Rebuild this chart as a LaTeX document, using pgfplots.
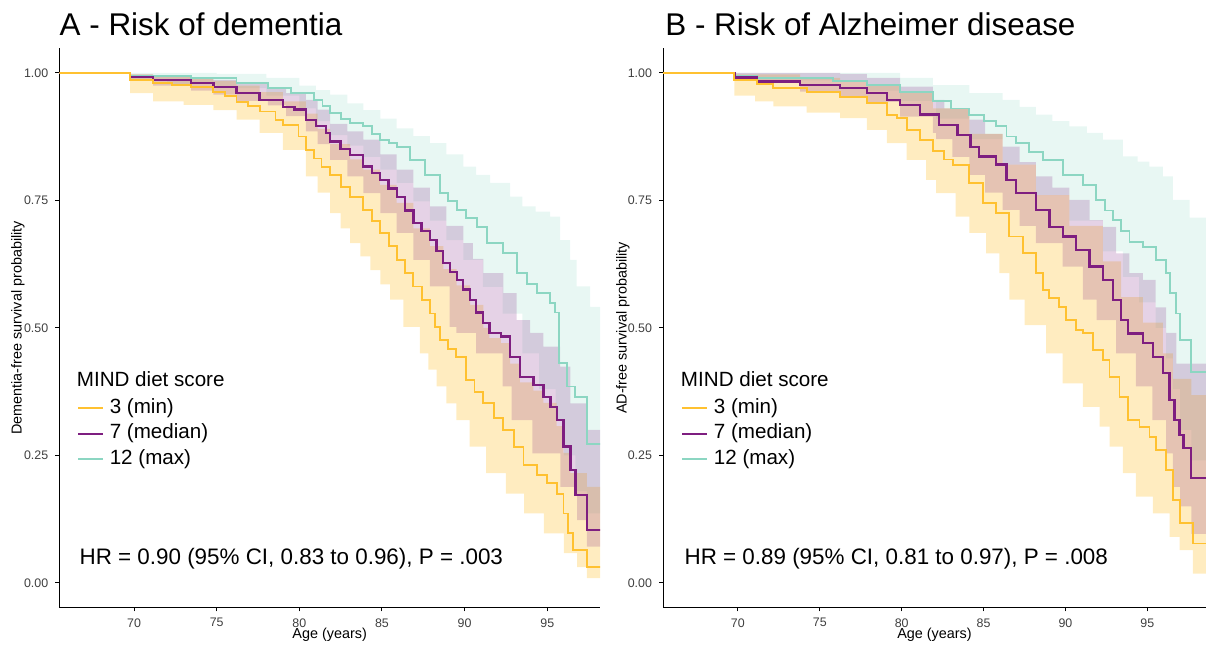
\documentclass[border=0pt]{standalone}
\usepackage{fontspec}
\setmainfont{Liberation Sans}
\usepackage{pgfplots}
\pgfplotsset{compat=1.18}
\usepgfplotslibrary{fillbetween}
\definecolor{cY}{HTML}{FFC130}
\definecolor{cP}{HTML}{7E1E80}
\definecolor{cT}{HTML}{8CD6C2}
\definecolor{gtick}{HTML}{3F3F3F}
\begin{document}
\begin{tikzpicture}
\pgfplotsset{
 panel/.style={scale only axis, ymin=-0.048, ymax=1.048,
  axis x line*=bottom, axis y line*=left,
  xtick={70,75,80,85,90,95}, ytick={0,0.25,0.5,0.75,1},
  yticklabels={0.00,0.25,0.50,0.75,1.00},
  tick align=outside, major tick length=2pt,
  tick style={black,line width=0.5pt},
  axis line style={black,line width=0.5pt},
  ticklabel style={font=\fontsize{6.2}{7}\selectfont, text=gtick},
  /pgf/number format/assume math mode=true,
  xlabel={Age (years)},
  label style={font=\fontsize{7.2}{8.5}\selectfont},
  xlabel style={at={(rel axis cs:0.5,-0.0496)}, anchor=center},
  legend style={draw=none, fill=none, anchor=north west, inner sep=0pt,
    row sep=2.75pt, column sep=3pt, font=\fontsize{10.3}{12}\selectfont,
    nodes={inner sep=0pt, text height=7.4pt, text depth=2.6pt}},
  legend cell align=left,
  legend image code/.code={\draw[##1] (0pt,0pt) -- (12.3pt,0pt);},
 },
 band/.style={draw=none, const plot, forget plot},
 km/.style={const plot, forget plot},
}
% ---------------- Panel A ----------------
\begin{axis}[panel, at={(29.65pt,18.35pt)}, anchor=south west,
  width=270.35pt, height=279.5pt, xmin=65.48, xmax=98.19,
  ylabel={Dementia-free survival probability},
  ylabel style={at={(rel axis cs:-0.0764,0.5)}, anchor=center},
  legend style={at={(rel axis cs:0.0318,0.3746)}}]
\addlegendimage{line width=0.95pt, color=cY}\addlegendentry{3 (min)}
\addlegendimage{line width=1.15pt, color=cP}\addlegendentry{7 (median)}
\addlegendimage{line width=0.95pt, color=cT}\addlegendentry{12 (max)}
% teal band
\addplot[band, name path=TUa] coordinates {(69.76,1.0) (75.0,0.998) (78.0,0.99) (80.0,0.975) (81.0,0.966) (81.86,0.957) (82.9,0.94) (83.87,0.927) (84.9,0.91) (85.89,0.891) (86.9,0.876) (87.9,0.862) (88.9,0.84) (89.92,0.816) (90.7,0.80) (91.54,0.784) (92.75,0.757) (93.5,0.738) (94.3,0.728) (95.17,0.718) (95.77,0.672) (96.38,0.633) (96.78,0.581) (97.59,0.541) (98.4,0.541)};
\addplot[band, name path=TLa] coordinates {(69.76,0.985) (72.0,0.978) (75.0,0.970) (78.0,0.955) (80.0,0.930) (81.0,0.905) (81.86,0.878) (82.9,0.857) (83.87,0.835) (84.9,0.81) (85.89,0.784) (86.9,0.748) (87.9,0.71) (88.9,0.672) (89.92,0.633) (91.1,0.58) (92.3,0.528) (93.5,0.45) (94.5,0.38) (95.5,0.32) (96.0,0.25) (96.7,0.18) (97.4,0.136) (98.4,0.136)};
\addplot[fill=cT, fill opacity=0.2, draw=none, forget plot] fill between[of=TUa and TLa];
% yellow band
\addplot[band, name path=YUa] coordinates {(69.76,0.997) (71.15,0.993) (73.46,0.990) (74.8,0.984) (76.2,0.975) (77.6,0.962) (79.0,0.944) (80.4,0.92) (81.1,0.89) (81.86,0.86) (83.07,0.83) (83.87,0.81) (84.88,0.78) (85.89,0.745) (86.9,0.695) (87.9,0.66) (88.71,0.615) (89.52,0.583) (90.33,0.545) (91.13,0.50) (91.5,0.48) (92.2,0.47) (92.75,0.43) (93.35,0.393) (94.16,0.377) (94.77,0.353) (95.57,0.307) (95.98,0.255) (96.4,0.215) (97.4,0.188) (98.4,0.188)};
\addplot[band, name path=YLa] coordinates {(69.76,0.960) (71.15,0.944) (73.0,0.937) (74.8,0.927) (76.2,0.908) (77.6,0.882) (79.0,0.849) (80.4,0.797) (81.1,0.765) (81.86,0.725) (82.5,0.695) (83.07,0.666) (83.7,0.64) (84.3,0.613) (84.9,0.585) (85.5,0.555) (86.3,0.502) (87.3,0.450) (87.8,0.418) (88.3,0.385) (88.9,0.352) (89.5,0.319) (90.3,0.267) (91.3,0.215) (92.5,0.175) (93.6,0.136) (94.8,0.097) (96.0,0.058) (96.8,0.031) (97.4,0.009) (98.4,0.006)};
\addplot[fill=cY, fill opacity=0.3, draw=none, forget plot] fill between[of=YUa and YLa];
% purple band
\addplot[band, name path=PUa] coordinates {(69.76,0.997) (71.15,0.995) (73.46,0.99) (74.8,0.986) (76.2,0.98) (78.1,0.972) (79.2,0.96) (80.4,0.947) (81.1,0.928) (81.86,0.90) (82.9,0.885) (83.87,0.869) (84.9,0.84) (85.89,0.810) (86.9,0.775) (87.9,0.738) (88.9,0.70) (89.92,0.666) (90.5,0.635) (91.13,0.607) (92.34,0.568) (93.15,0.515) (93.96,0.49) (94.77,0.463) (95.77,0.424) (96.4,0.352) (97.4,0.30) (98.4,0.30)};
\addplot[band, name path=PLa] coordinates {(69.76,0.986) (71.15,0.975) (73.46,0.965) (74.8,0.957) (76.2,0.945) (78.1,0.936) (79.2,0.915) (80.4,0.885) (81.1,0.86) (81.86,0.829) (82.9,0.797) (83.87,0.764) (84.9,0.725) (85.89,0.686) (86.9,0.633) (87.9,0.581) (89.1,0.502) (89.5,0.49) (90.7,0.45) (92.3,0.385) (92.85,0.319) (94.1,0.254) (95.8,0.188) (96.8,0.123) (97.4,0.071) (98.4,0.071)};
\addplot[fill=cP, fill opacity=0.2, draw=none, forget plot] fill between[of=PUa and PLa];
% lines
\addplot[km, cT, line width=0.95pt] coordinates {(65.48,1) (69.76,0.994) (73.46,0.990) (76.2,0.980) (78.1,0.970) (79.5,0.961) (80.9,0.947) (81.4,0.935) (81.86,0.922) (82.5,0.910) (83.07,0.901) (83.87,0.895) (84.4,0.880) (84.88,0.869) (85.4,0.862) (85.89,0.854) (86.7,0.829) (87.6,0.800) (88.51,0.764) (89.0,0.748) (89.52,0.731) (90.1,0.715) (90.73,0.698) (91.34,0.666) (92.34,0.646) (93.15,0.607) (93.8,0.585) (94.36,0.568) (95.17,0.548) (95.45,0.53) (95.7,0.431) (96.18,0.385) (96.68,0.365) (97.4,0.273) (98.4,0.273)};
\addplot[km, cP, line width=1.15pt] coordinates {(65.48,1) (69.76,0.992) (71.15,0.986) (73.46,0.980) (74.8,0.972) (76.2,0.960) (77.6,0.947) (79.0,0.933) (79.7,0.928) (80.4,0.908) (81.0,0.895) (81.6,0.882) (81.86,0.865) (82.5,0.85) (83.07,0.839) (83.87,0.816) (84.4,0.803) (84.88,0.790) (85.4,0.773) (85.89,0.757) (86.4,0.73) (86.9,0.705) (87.4,0.69) (87.9,0.672) (88.3,0.65) (88.71,0.627) (89.1,0.61) (89.52,0.594) (89.9,0.575) (90.33,0.555) (90.7,0.53) (91.13,0.509) (91.5,0.49) (92.2,0.483) (92.75,0.443) (93.35,0.404) (94.16,0.388) (94.77,0.365) (95.2,0.345) (95.57,0.319) (95.98,0.267) (96.4,0.221) (96.7,0.172) (97.4,0.103) (98.4,0.103)};
\addplot[km, cY, line width=0.95pt] coordinates {(65.48,1) (69.76,0.986) (71.15,0.980) (72.3,0.976) (73.46,0.972) (74.8,0.963) (75.5,0.955) (76.2,0.943) (76.9,0.934) (77.6,0.924) (78.56,0.908) (79.0,0.898) (79.95,0.875) (80.4,0.849) (80.9,0.832) (81.34,0.816) (81.86,0.800) (82.5,0.776) (83.07,0.757) (83.87,0.731) (84.4,0.71) (84.88,0.686) (85.4,0.66) (85.89,0.633) (86.4,0.607) (86.9,0.581) (87.4,0.555) (87.9,0.528) (88.2,0.502) (88.5,0.476) (89.0,0.458) (89.5,0.443) (90.1,0.398) (90.6,0.375) (91.1,0.352) (91.8,0.323) (92.3,0.300) (92.96,0.267) (93.56,0.231) (94.37,0.211) (94.97,0.195) (95.58,0.175) (95.98,0.136) (96.28,0.097) (96.58,0.064) (97.4,0.031) (98.4,0.031)};
\node[anchor=base west, inner sep=0pt, font=\fontsize{10.3}{12}\selectfont] at (rel axis cs:0.0318,0.3946) {MIND diet score};
\node[anchor=base west, inner sep=0pt, font=\fontsize{11.2}{13}\selectfont] at (rel axis cs:0.0368,0.0757) {HR = 0.90 (95\% CI, 0.83 to 0.96), P = .003};
\end{axis}
% ---------------- Panel B ----------------
\begin{axis}[panel, at={(331.5pt,18.35pt)}, anchor=south west,
  width=271.5pt, height=279.5pt, xmin=65.43, xmax=98.58,
  ylabel={AD-free survival probability},
  ylabel style={at={(rel axis cs:-0.0737,0.5)}, anchor=center},
  legend style={at={(rel axis cs:0.0324,0.3746)}}]
\addlegendimage{line width=0.95pt, color=cY}\addlegendentry{3 (min)}
\addlegendimage{line width=1.15pt, color=cP}\addlegendentry{7 (median)}
\addlegendimage{line width=0.95pt, color=cT}\addlegendentry{12 (max)}
% teal band
\addplot[band, name path=TUb] coordinates {(69.79,1.0) (77.87,1.0) (79.9,0.99) (81.9,0.976) (84.13,0.960) (86.17,0.947) (87.2,0.933) (88.2,0.918) (89.2,0.905) (90.24,0.895) (91.3,0.882) (92.28,0.869) (93.5,0.836) (94.4,0.826) (95.13,0.816) (95.95,0.797) (96.56,0.751) (97.58,0.716) (98.6,0.716)};
\addplot[band, name path=TLb] coordinates {(69.79,0.985) (77.87,0.965) (79.9,0.945) (82.1,0.91) (84.13,0.87) (86.17,0.82) (88.2,0.76) (90.24,0.71) (92.28,0.65) (93.5,0.6) (94.5,0.55) (95.5,0.5) (96.15,0.44) (96.56,0.38) (97.0,0.30) (97.68,0.24) (98.6,0.24)};
\addplot[fill=cT, fill opacity=0.2, draw=none, forget plot] fill between[of=TUb and TLb];
% yellow band
\addplot[band, name path=YUb] coordinates {(69.79,0.997) (73.8,0.99) (76.24,0.985) (77.87,0.978) (79.9,0.96) (81.9,0.93) (84.13,0.88) (86.17,0.82) (88.2,0.76) (90.24,0.70) (92.28,0.63) (93.4,0.56) (94.72,0.51) (95.95,0.45) (96.56,0.40) (97.68,0.368) (98.6,0.368)};
\addplot[band, name path=YLb] coordinates {(69.79,0.955) (71.05,0.944) (72.17,0.934) (74.2,0.922) (76.24,0.911) (77.87,0.888) (79.09,0.862) (80.3,0.829) (81.5,0.79) (82.1,0.764) (83.3,0.718) (84.13,0.686) (85.15,0.646) (85.96,0.607) (86.58,0.555) (87.5,0.505) (88.82,0.45) (89.83,0.391) (91.06,0.345) (92.08,0.306) (92.69,0.267) (93.5,0.215) (94.3,0.169) (95.34,0.136) (96.36,0.09) (96.97,0.064) (97.78,0.018) (98.6,0.018)};
\addplot[fill=cY, fill opacity=0.3, draw=none, forget plot] fill between[of=YUb and YLb];
% purple band
\addplot[band, name path=PUb] coordinates {(69.79,1.0) (76.24,0.998) (77.87,0.99) (79.9,0.973) (81.9,0.947) (82.6,0.93) (84.13,0.908) (85.1,0.88) (86.17,0.855) (87.2,0.825) (88.2,0.797) (89.2,0.775) (90.24,0.751) (91.47,0.711) (92.28,0.698) (93.1,0.646) (93.9,0.607) (94.72,0.594) (95.5,0.54) (96.15,0.49) (96.77,0.43) (98.6,0.43)};
\addplot[band, name path=PLb] coordinates {(69.79,0.984) (73.8,0.963) (76.24,0.953) (77.87,0.943) (79.9,0.914) (81.9,0.882) (82.1,0.87) (83.1,0.835) (84.13,0.80) (85.1,0.765) (86.17,0.731) (87.2,0.70) (88.2,0.666) (89.83,0.62) (91.06,0.555) (91.9,0.515) (93.1,0.45) (94.3,0.385) (95.3,0.319) (96.15,0.254) (96.56,0.188) (97.0,0.15) (97.68,0.096) (98.6,0.096)};
\addplot[fill=cP, fill opacity=0.2, draw=none, forget plot] fill between[of=PUb and PLb];
% lines
\addplot[km, cT, line width=0.95pt] coordinates {(65.43,1) (69.79,0.993) (71.15,0.990) (75.83,0.983) (77.87,0.976) (79.9,0.963) (81.9,0.944) (83.0,0.93) (84.13,0.918) (85.0,0.905) (85.76,0.895) (86.4,0.875) (86.99,0.862) (87.8,0.845) (88.61,0.829) (89.83,0.80) (91.06,0.78) (91.87,0.751) (92.4,0.73) (92.89,0.711) (93.4,0.69) (93.91,0.669) (94.72,0.659) (95.54,0.633) (96.15,0.607) (96.36,0.568) (96.77,0.528) (96.97,0.476) (97.68,0.414) (98.6,0.414)};
\addplot[km, cP, line width=1.15pt] coordinates {(65.43,1) (69.79,0.991) (71.15,0.983) (73.8,0.976) (76.24,0.970) (77.87,0.960) (79.09,0.947) (79.9,0.937) (81.1,0.918) (82.3,0.898) (83.4,0.878) (84.2,0.855) (84.74,0.836) (85.76,0.82) (86.4,0.79) (86.99,0.764) (88.2,0.731) (89.02,0.698) (89.83,0.679) (90.65,0.653) (91.47,0.62) (92.28,0.594) (92.89,0.555) (93.4,0.515) (93.81,0.489) (94.72,0.47) (95.34,0.443) (95.95,0.411) (96.36,0.358) (96.66,0.319) (96.97,0.29) (97.2,0.264) (97.68,0.205) (98.6,0.205)};
\addplot[km, cY, line width=0.95pt] coordinates {(65.43,1) (69.79,0.985) (71.15,0.978) (72.17,0.970) (74.2,0.963) (76.24,0.953) (77.87,0.941) (79.09,0.918) (79.7,0.911) (80.3,0.888) (81.1,0.869) (81.9,0.846) (82.6,0.83) (83.12,0.82) (84.13,0.784) (84.95,0.744) (85.76,0.725) (86.58,0.679) (87.39,0.646) (88.2,0.607) (88.61,0.574) (89.02,0.558) (89.63,0.541) (90.04,0.515) (90.65,0.496) (91.06,0.489) (91.67,0.457) (92.28,0.437) (92.69,0.404) (93.3,0.365) (93.81,0.319) (94.52,0.306) (95.13,0.286) (95.54,0.26) (96.15,0.221) (96.56,0.162) (96.97,0.117) (97.78,0.077) (98.6,0.077)};
\node[anchor=base west, inner sep=0pt, font=\fontsize{10.3}{12}\selectfont] at (rel axis cs:0.0324,0.3946) {MIND diet score};
\node[anchor=base west, inner sep=0pt, font=\fontsize{11.2}{13}\selectfont] at (rel axis cs:0.039,0.0757) {HR = 0.89 (95\% CI, 0.81 to 0.97), P = .008};
\end{axis}
\node[anchor=base west, inner sep=0pt, font=\fontsize{15.7}{18}\selectfont] at (29.65pt,304pt) {A - Risk of dementia};
\node[anchor=base west, inner sep=0pt, font=\fontsize{15.7}{18}\selectfont] at (332.5pt,304pt) {B - Risk of Alzheimer disease};
\pgfresetboundingbox
\useasboundingbox (0,0) rectangle (603pt,322pt);
\end{tikzpicture}
\end{document}
